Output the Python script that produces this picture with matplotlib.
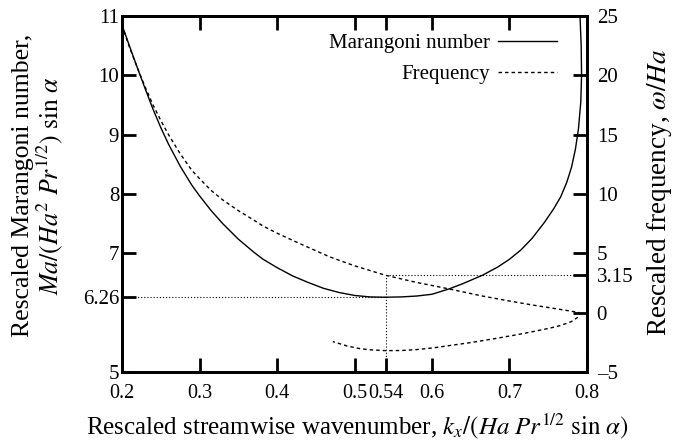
import matplotlib
matplotlib.use("Agg")
import matplotlib.pyplot as plt

plt.rcParams["font.family"] = ["Liberation Serif", "DejaVu Serif"]
plt.rcParams["mathtext.fontset"] = "stix"

# Marangoni number (left axis)
ma_kx = [0.200, 0.210, 0.220, 0.230, 0.240, 0.250, 0.260, 0.275, 0.290, 0.300,
         0.315, 0.330, 0.350, 0.370, 0.382, 0.400, 0.420, 0.440, 0.460, 0.480,
         0.500, 0.520, 0.540, 0.560, 0.580, 0.600, 0.622, 0.640, 0.665, 0.685,
         0.700, 0.715, 0.729, 0.745, 0.757, 0.766, 0.774, 0.780, 0.785, 0.789,
         0.792, 0.793, 0.7925, 0.791]
ma_val = [10.85, 10.48, 10.12, 9.77, 9.43, 9.12, 8.84, 8.47, 8.15, 7.97,
          7.72, 7.50, 7.24, 7.02, 6.90, 6.76, 6.62, 6.51, 6.41, 6.34,
          6.29, 6.265, 6.26, 6.265, 6.28, 6.31, 6.40, 6.49, 6.63, 6.77,
          6.90, 7.06, 7.25, 7.52, 7.75, 7.95, 8.20, 8.45, 8.75, 9.10,
          9.55, 10.00, 10.5, 11.0]

# Frequency (right axis), upper branch then lower branch back to the left
fr_kx = [0.200, 0.210, 0.220, 0.230, 0.240, 0.250, 0.260, 0.275, 0.290, 0.300,
         0.315, 0.330, 0.350, 0.370, 0.382, 0.400, 0.430, 0.468, 0.500, 0.540,
         0.580, 0.622, 0.665, 0.700, 0.729, 0.760, 0.780, 0.790,
         0.791, 0.789, 0.780, 0.765, 0.751, 0.730, 0.708, 0.680, 0.650, 0.622,
         0.600, 0.579, 0.560, 0.540, 0.520, 0.506, 0.490, 0.472]
fr_val = [24.2, 22.3, 20.6, 19.0, 17.5, 16.2, 15.0, 13.4, 12.0, 11.3,
          10.3, 9.5, 8.6, 7.8, 7.3, 6.7, 5.8, 4.7, 3.95, 3.15,
          2.55, 2.0, 1.4, 0.98, 0.65, 0.33, 0.12, 0.0,
          -0.15, -0.35, -0.75, -1.10, -1.32, -1.60, -1.88, -2.20, -2.52, -2.78,
          -2.98, -3.12, -3.19, -3.20, -3.13, -3.02, -2.80, -2.44]

kx_crit = 0.54
ma_crit = 6.26
fr_crit = 3.15

x_ticks = [0.2, 0.3, 0.4, 0.5, 0.54, 0.6, 0.7, 0.8]
x_labels = ["0.2", "0.3", "0.4", "0.5", "0.54", "0.6", "0.7", "0.8"]
ma_ticks = [5, 6.26, 7, 8, 9, 10, 11]
ma_labels = ["5", "6.26", "7", "8", "9", "10", "11"]
fr_ticks = [-5, 0, 3.15, 5, 10, 15, 20, 25]
fr_labels = ["\u20135", "0", "3.15", "5", "10", "15", "20", "25"]

fig = plt.figure(figsize=(6.73, 4.43), dpi=100)
ax = fig.add_axes([0.1813, 0.1603, 0.6909, 0.8036])
ax2 = ax.twinx()

l1, = ax.plot(ma_kx, ma_val, color="black", lw=1.0, label="Marangoni number")
l2, = ax2.plot(fr_kx, fr_val, color="black", lw=1.0, linestyle=(0, (2.5, 2.2)),
               label="Frequency")

dot = (0, (1, 1.8))
ax.plot([0.2, kx_crit], [ma_crit, ma_crit], color="black", lw=0.8, linestyle=dot)
ax2.plot([kx_crit, kx_crit], [-5, fr_crit], color="black", lw=0.8, linestyle=dot)
ax2.plot([kx_crit, 0.8], [fr_crit, fr_crit], color="black", lw=0.8, linestyle=dot)

ax.set_xlim(0.2, 0.8)
ax.set_ylim(5, 11)
ax2.set_ylim(-5, 25)

ax.set_xticks(x_ticks)
ax.set_xticklabels(x_labels)
ax.set_yticks(ma_ticks)
ax.set_yticklabels(ma_labels)
ax2.set_yticks(fr_ticks)
ax2.set_yticklabels(fr_labels)

ax.tick_params(axis="x", direction="in", length=10, width=2, top=True,
               labelsize=14.5, pad=9)
ax.tick_params(axis="y", direction="in", length=10, width=2, labelsize=15, pad=2)
ax2.tick_params(axis="y", direction="in", length=10, width=2, labelsize=15, pad=7)
for a in (ax, ax2):
    for s in a.spines.values():
        s.set_linewidth(2)

ax.set_xlabel(r"Rescaled streamwise wavenumber, $k_x/(Ha\ Pr^{1/2}\ \mathrm{sin}\ \alpha)$",
              fontsize=18)
ax.xaxis.set_label_coords(0.506, -0.11)

ax.set_ylabel("Rescaled Marangoni number,\n" + r"$Ma/(Ha^2\ Pr^{1/2})\ \mathrm{sin}\ \alpha$",
              fontsize=18.5, va="center", linespacing=1.0)
ax.yaxis.set_label_coords(-0.18, 0.525)

ax2.set_ylabel(r"Rescaled frequency, $\omega/Ha$", fontsize=19.5, va="center")
ax2.yaxis.set_label_coords(1.155, 0.506)

ax.legend(handles=[l1, l2], loc="upper right", bbox_to_anchor=(0.935, 0.95),
          frameon=False, markerfirst=False, fontsize=15, handlelength=2.84,
          handletextpad=0.38, borderpad=0, borderaxespad=0, labelspacing=0.54)

fig.savefig("out.png", dpi=100)
